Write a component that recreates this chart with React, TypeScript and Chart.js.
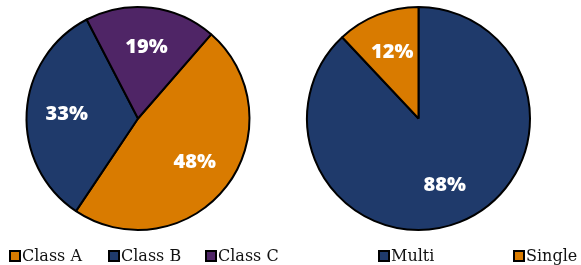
import React, { useEffect, useRef } from "react";
import { Chart, registerables } from "chart.js";

Chart.register(...registerables);

const leftLabels = ["Class A", "Class B", "Class C"];
const leftValues = [48, 33, 19];
const leftColors = ["#D97B00", "#1F3A6B", "#4F2566"];

const rightLabels = ["Multi", "Single"];
const rightValues = [88, 12];
const rightColors = ["#1F3A6B", "#D97B00"];

const pieLabelsPlugin = {
  id: "pieLabels",
  afterDatasetsDraw(chart: any) {
    const ctx = chart.ctx;
    const ds = chart.data.datasets[0];
    const total = ds.data.reduce((a: number, b: number) => a + b, 0);
    const meta = chart.getDatasetMeta(0);
    ctx.save();
    ctx.fillStyle = "#ffffff";
    ctx.font = "800 20px 'Open Sans'";
    ctx.textAlign = "center";
    ctx.textBaseline = "middle";
    meta.data.forEach((arc: any, i: number) => {
      const p = arc.getProps(["x", "y", "startAngle", "endAngle", "outerRadius"], true);
      const mid = (p.startAngle + p.endAngle) / 2;
      const r = p.outerRadius * 0.64;
      const pct = Math.round((ds.data[i] / total) * 100);
      ctx.fillText(pct + "%", p.x + Math.cos(mid) * r, p.y + Math.sin(mid) * r);
    });
    ctx.restore();
  },
};

const boxLegendPlugin = {
  id: "boxLegend",
  afterDraw(chart: any, _args: any, opts: any) {
    const ctx = chart.ctx;
    const ds = chart.data.datasets[0];
    const labels = chart.data.labels as string[];
    ctx.save();
    ctx.font = "16px 'DejaVu Serif'";
    ctx.textBaseline = "middle";
    ctx.textAlign = "left";
    labels.forEach((lab, i) => {
      const x = opts.xs[i];
      const y = opts.y;
      ctx.fillStyle = ds.backgroundColor[i];
      ctx.fillRect(x + 1, y - 5, 10, 10);
      ctx.lineWidth = 2;
      ctx.strokeStyle = "#000000";
      ctx.strokeRect(x + 1, y - 5, 10, 10);
      ctx.fillStyle = "#111111";
      ctx.fillText(lab, x + 13, y + 1);
    });
    ctx.restore();
  },
};

function PieCanvas(props: {
  labels: string[];
  values: number[];
  colors: string[];
  rotation: number;
  width: number;
  padRight: number;
  legendXs: number[];
}) {
  const ref = useRef<HTMLCanvasElement>(null);
  useEffect(() => {
    if (!ref.current) return;
    const chart = new Chart(ref.current, {
      type: "pie",
      data: {
        labels: props.labels,
        datasets: [
          {
            data: props.values,
            backgroundColor: props.colors,
            borderColor: "#000000",
            borderWidth: 2,
          },
        ],
      },
      options: {
        responsive: false,
        animation: false,
        rotation: props.rotation,
        layout: { padding: { top: 6, bottom: 34, left: 0, right: props.padRight } },
        plugins: {
          legend: { display: false },
          tooltip: { enabled: false },
          boxLegend: { xs: props.legendXs, y: 256 },
        } as any,
      },
      plugins: [pieLabelsPlugin, boxLegendPlugin],
    });
    return () => chart.destroy();
  }, []);
  return (
    <canvas
      ref={ref}
      width={props.width}
      height={265}
      style={{ width: props.width, height: 265, display: "block" }}
    />
  );
}

export default function App() {
  return (
    <div
      style={{
        position: "fixed",
        left: 0,
        top: 0,
        width: 581,
        height: 265,
        background: "#ffffff",
        display: "flex",
      }}
    >
      <PieCanvas
        labels={leftLabels}
        values={leftValues}
        colors={leftColors}
        rotation={41}
        width={290}
        padRight={14}
        legendXs={[9, 108, 205]}
      />
      <PieCanvas
        labels={rightLabels}
        values={rightValues}
        colors={rightColors}
        rotation={0}
        width={291}
        padRight={34}
        legendXs={[88, 223]}
      />
    </div>
  );
}
